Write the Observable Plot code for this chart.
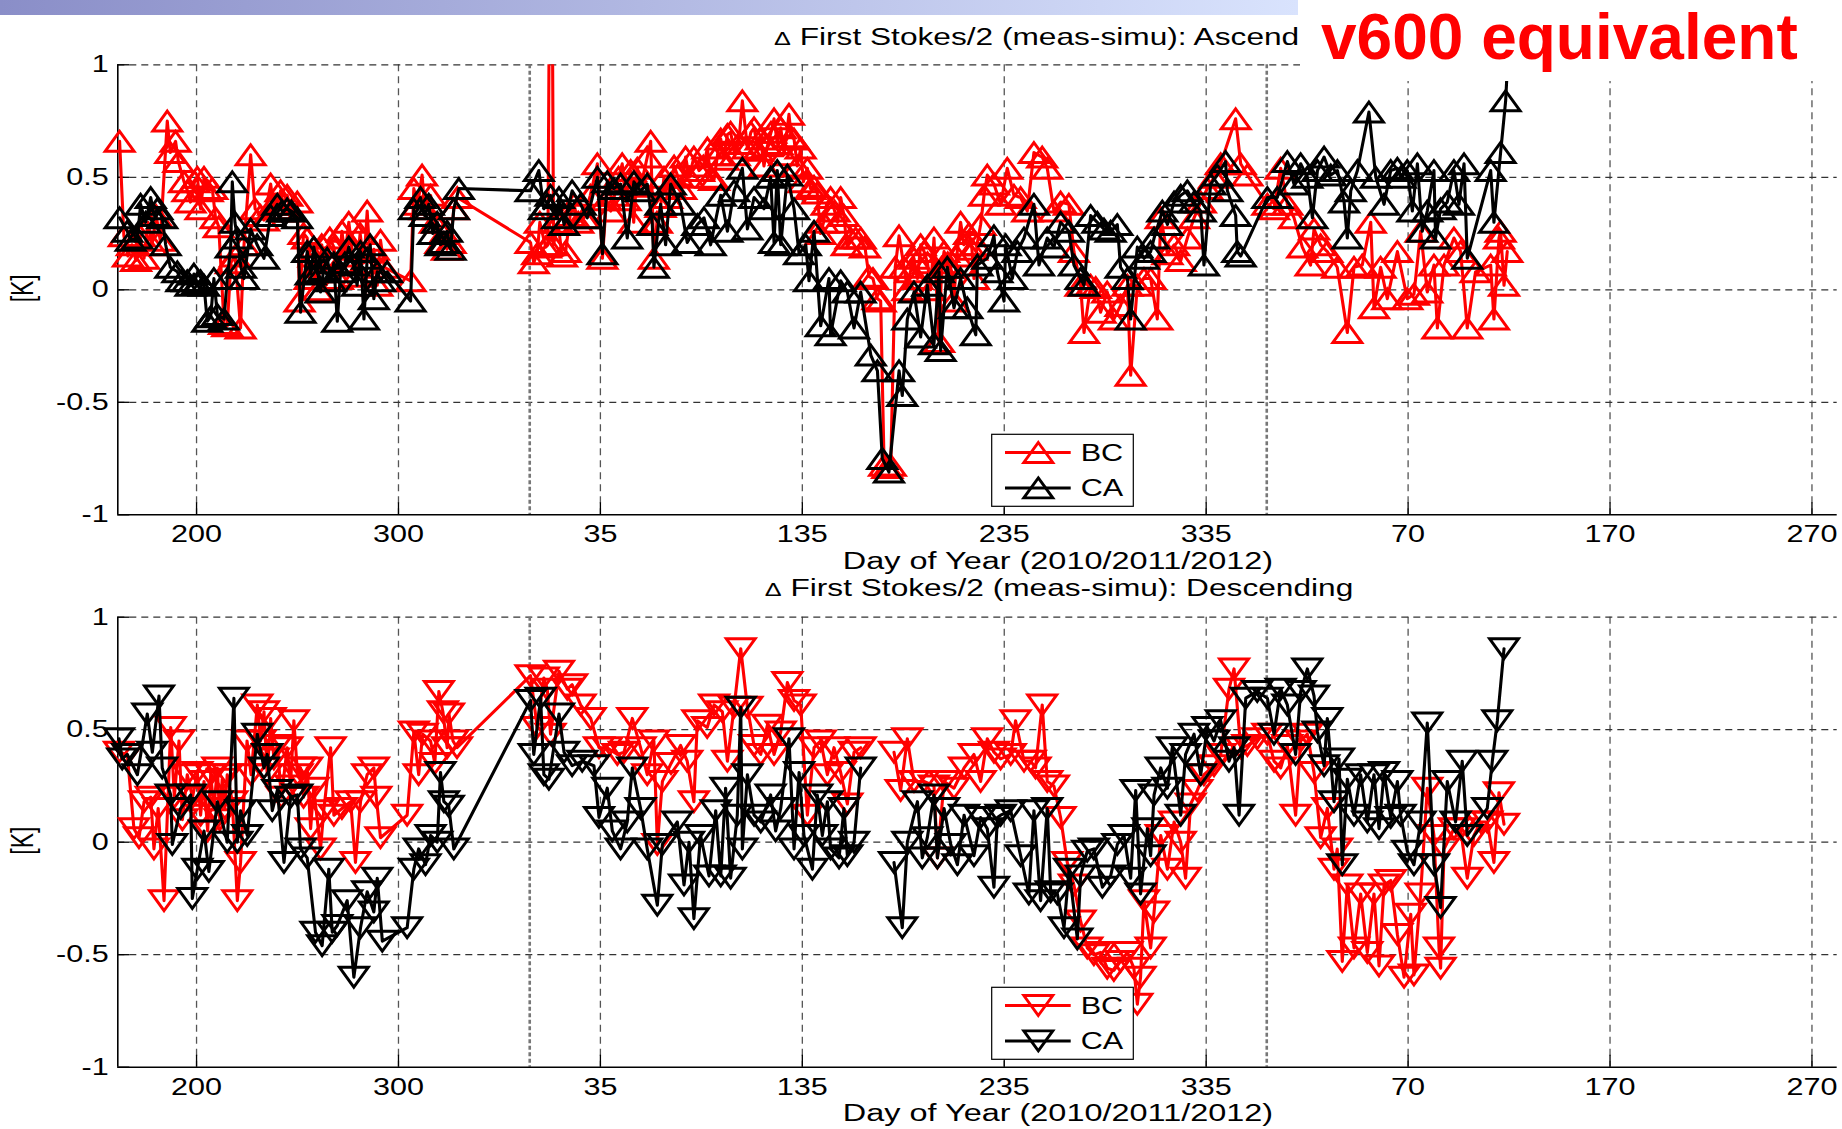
<!DOCTYPE html>
<html><head><meta charset="utf-8">
<script src="https://cdn.jsdelivr.net/npm/d3@7"></script>
<script src="https://cdn.jsdelivr.net/npm/@observablehq/plot@0.6"></script>
<style>
html,body{margin:0;padding:0;background:#fff;}
#root{position:relative;width:1842px;height:1129px;overflow:hidden;background:#fff;}
</style></head><body><div id="root"></div>
<script>
// ---------------- data ----------------
const xTicks = [200, 300, 400, 500, 600, 700, 800, 900, 1000];
const xTickLabels = ["200", "300", "35", "135", "235", "335", "70", "170", "270"];
const yTicks = [-1, -0.5, 0, 0.5, 1];
const yearBreaks = [365, 730];
const seriesNames = ["BC", "CA"];
const titleTop = "First Stokes/2 (meas-simu): Ascend";
const titleBottom = "First Stokes/2 (meas-simu): Descending";
const xLabel = "Day of Year (2010/2011/2012)";
const yLabel = "[K]";
const stamp = "v600 equivalent";

const ascBC = [[161.9,0.66],[164,0.24],[166,0.15],[168,0.2],[170,0.13],[172,0.24],[174,0.14],[176,0.3],[178,0.2],[180,0.33],[182,0.22],[185.5,0.75],[187,0.61],[189.6,0.66],[191,0.57],[193.8,0.48],[195.5,0.44],[197,0.39],[199,0.48],[200.4,0.5],[202,0.36],[203.7,0.5],[205.5,0.44],[207.8,0.45],[209.4,0.32],[211,0.28],[213.6,-0.15],[215.2,-0.16],[217,0.12],[219,0.15],[221.8,-0.17],[223.5,0.2],[226.8,0.6],[229,0.36],[231.7,0.33],[233.4,0.31],[236.7,0.47],[238,0.38],[240,0.36],[241.6,0.44],[243,0.38],[244.9,0.42],[247,0.35],[249.9,0.39],[251,-0.05],[253,0.25],[254.8,0.23],[256,0.05],[258,0.15],[260,0.0],[262,0.2],[264,0.08],[266,0.23],[268,0.19],[270,0.05],[272,0.26],[273.5,0.15],[275.4,0.3],[277,0.18],[279,0.06],[281,0.25],[282.9,0.12],[284.5,0.35],[286,0.12],[287.8,0.18],[289.5,0.02],[291.1,0.22],[293,0.1],[306,0.04],[307.6,0.45],[309.5,0.38],[311.7,0.51],[313,0.36],[315.9,0.42],[318,0.3],[320.8,0.21],[322.5,0.25],[324,0.18],[325.8,0.21],[327.4,0.36],[329.1,0.41],[365.4,0.21],[367,0.12],[368.7,0.16],[370,0.3],[372.9,0.19],[374,0.2],[375.5,2.5],[376.8,0.2],[379,0.3],[381,0.15],[382.8,0.17],[385,0.33],[386.9,0.38],[389,0.3],[391.9,0.32],[395,0.42],[398.5,0.56],[401,0.14],[403,0.4],[405.1,0.35],[407,0.42],[409,0.5],[410.8,0.56],[412.5,0.4],[415,0.53],[416.5,0.3],[418.3,0.54],[420,0.46],[423.2,0.59],[424.9,0.66],[426.5,0.14],[428,0.3],[429.8,0.37],[431.5,0.5],[433.1,0.41],[435,0.45],[436.5,0.55],[438.1,0.51],[440,0.45],[442.2,0.59],[444,0.5],[446.3,0.59],[448.8,0.53],[451,0.55],[453,0.63],[454.6,0.5],[456.3,0.49],[458,0.6],[459.6,0.67],[461,0.58],[462.9,0.69],[464.5,0.7],[466.5,0.6],[468.5,0.65],[470.3,0.84],[472.8,0.63],[474.5,0.7],[476.1,0.72],[478,0.62],[479.4,0.67],[481,0.55],[482.7,0.64],[484.5,0.7],[486,0.76],[487.6,0.65],[489.3,0.72],[491,0.6],[493.4,0.78],[494.5,0.68],[495.9,0.67],[497.5,0.55],[499.2,0.63],[500.5,0.48],[502.5,0.54],[504,0.45],[505.8,0.46],[507.4,0.43],[509,0.25],[510.5,0.3],[512,0.38],[514,0.41],[516,0.35],[517.5,0.3],[519,0.41],[520.6,0.33],[522,0.2],[523.9,0.23],[526.4,0.23],[528.9,0.23],[531,0.19],[533,0.06],[535,0.05],[537.2,-0.04],[538.8,-0.05],[540.5,-0.78],[542.1,-0.79],[543.8,-0.78],[546,0.1],[547.9,0.24],[550.4,0.1],[552,0.0],[553.5,0.08],[555.3,0.14],[557,0.05],[558.6,0.2],[560.3,0.17],[562,0.12],[563.5,0.0],[565.2,0.23],[567.7,-0.23],[569,0.1],[570.2,0.17],[572,0.12],[573.5,0.1],[575,-0.05],[576.5,0.15],[578.4,0.3],[580,0.2],[582.6,0.25],[584,0.18],[585,0.05],[586.5,0.2],[588.3,0.29],[590,0.42],[591.6,0.51],[594.9,0.47],[598.2,0.38],[601.5,0.54],[604.8,0.42],[608.1,0.41],[611.4,0.35],[614.7,0.61],[618.8,0.59],[621.3,0.54],[624.6,0.35],[627.9,0.39],[632,0.38],[634.5,0.17],[637.8,0.02],[639.5,-0.19],[642.8,0.02],[645.3,0.01],[647.7,-0.1],[651,-0.01],[654.3,-0.13],[657.6,-0.07],[661,0.02],[662.6,-0.38],[665.9,0.02],[669.2,0.05],[672.5,0.05],[675.8,-0.13],[677.5,0.32],[680.8,0.16],[684.1,0.2],[687.4,0.13],[690.7,0.23],[694,0.32],[697.3,0.39],[700.6,0.45],[703.9,0.5],[707.2,0.56],[714.6,0.76],[717.1,0.56],[720.4,0.51],[730.3,0.38],[733.6,0.36],[736.9,0.54],[740.2,0.38],[743.5,0.32],[747.6,0.19],[751.7,0.11],[753.4,0.27],[756.7,0.2],[760,0.17],[764.9,0.1],[769.9,-0.19],[773.2,0.1],[777.3,0.11],[781.5,0.3],[783.1,-0.08],[786.4,0.1],[789.7,-0.04],[794.7,0.17],[799.6,-0.04],[802.9,-0.02],[806.2,0.26],[809.5,-0.01],[812.8,0.11],[814.5,-0.17],[817.8,0.11],[822.7,0.23],[826,0.17],[829.3,-0.17],[833.4,0.08],[840.9,0.11],[842.5,-0.13],[845,0.23],[845.8,0.26],[847.5,0.02],[849.1,0.17]];

const ascCA = [[161.9,0.32],[165.7,0.26],[167.4,0.22],[170.7,0.23],[172.3,0.38],[174.8,0.3],[177.3,0.41],[179,0.33],[180.6,0.36],[183,0.32],[184.7,0.2],[187,0.1],[190.5,0.08],[192.5,0.04],[195.4,0.04],[197,0.02],[198.7,0.07],[200.4,0.03],[202,0.04],[203.7,0.02],[205.3,-0.14],[207,-0.12],[208.6,0.05],[210.3,-0.11],[213.6,-0.13],[215.2,0.05],[216.9,0.19],[217.7,0.48],[219,0.3],[220.2,0.23],[222,0.1],[223.5,0.05],[226.8,0.27],[230,0.2],[233.4,0.14],[236.7,0.33],[240,0.38],[242.4,0.35],[244.9,0.36],[247,0.35],[249.9,0.32],[251.5,-0.1],[254.8,0.17],[256.5,0.07],[258.1,0.19],[260,0.08],[261.4,-0.01],[263,0.09],[264.7,0.14],[266.5,0.04],[268,0.12],[269.7,-0.14],[271.3,0.08],[273.5,0.12],[275.4,0.19],[277.9,0.11],[279.5,0.02],[281.2,0.17],[282.9,-0.13],[284.5,0.14],[286,0.2],[287.8,-0.04],[289.5,0.08],[291,0.04],[294.4,0.08],[306,-0.05],[307.6,0.36],[310.9,0.41],[313,0.33],[315,0.38],[317,0.25],[319.2,0.3],[320.8,0.2],[322.5,0.21],[324.1,0.26],[325.8,0.18],[327.4,0.36],[329.9,0.45],[365.4,0.44],[369.5,0.53],[372,0.36],[373.7,0.38],[375.3,0.42],[378.6,0.32],[379.5,0.41],[382,0.29],[386,0.44],[390.2,0.38],[393.5,0.32],[398.5,0.5],[401,0.16],[403.4,0.48],[406.7,0.45],[410,0.47],[413.3,0.23],[416.6,0.48],[419.9,0.44],[423.2,0.47],[425.7,0.29],[426.5,0.1],[429.8,0.38],[432.3,0.2],[434.8,0.47],[439.7,0.38],[443,0.21],[448,0.29],[451.3,0.32],[454.6,0.2],[459.6,0.42],[462.9,0.26],[466.2,0.44],[470.3,0.54],[472.8,0.27],[476.1,0.41],[481,0.36],[484.3,0.5],[486,0.21],[487.6,0.53],[489.3,0.2],[492.6,0.51],[495.9,0.36],[498.4,0.16],[501.7,0.2],[503.3,0.04],[505.8,0.26],[509.1,-0.16],[513.2,0.05],[514,-0.2],[519,0.04],[522.3,-0.01],[525.6,-0.17],[528.9,-0.01],[533.9,-0.29],[537.2,-0.36],[539.6,-0.75],[542.9,-0.81],[547.9,-0.36],[549.5,-0.47],[552,-0.13],[555.3,-0.01],[558.6,-0.21],[561.9,0.02],[565.2,-0.24],[567.7,0.08],[568.5,-0.27],[571.8,0.1],[575.1,-0.08],[578.4,0.05],[581.7,-0.08],[585.9,-0.2],[586.7,0.11],[591.6,0.14],[594.9,0.24],[596.6,0.08],[599.9,-0.05],[600.7,0.2],[604,0.05],[606.5,0.17],[609.8,0.23],[614.7,0.38],[617.2,0.11],[621.3,0.23],[624.6,0.19],[627.9,0.3],[632,0.26],[634.5,0.11],[637.8,0.05],[639.5,0.02],[642.8,0.33],[646.1,0.3],[649.4,0.27],[652.7,0.26],[656,0.29],[657.6,0.1],[661,0.05],[662.6,-0.13],[665.9,0.19],[669.2,0.14],[672.5,0.17],[674.2,0.23],[678.3,0.35],[680.8,0.29],[684.1,0.39],[687.4,0.42],[690.7,0.44],[694,0.39],[697.3,0.35],[698.9,0.11],[702.2,0.47],[705.5,0.51],[709.6,0.57],[710.5,0.44],[714.6,0.33],[715.4,0.17],[717.1,0.15],[730.3,0.41],[735.2,0.41],[740.2,0.57],[743.5,0.47],[746.8,0.56],[750.1,0.5],[752.6,0.32],[755.1,0.53],[758.4,0.59],[761.7,0.51],[765,0.53],[768.3,0.39],[769.9,0.23],[771.6,0.44],[774.9,0.53],[780.6,0.79],[784,0.5],[788.1,0.38],[791.4,0.53],[794.7,0.54],[796.3,0.5],[799.6,0.53],[802.1,0.35],[804.6,0.56],[807,0.26],[809.5,0.35],[812.8,0.53],[813.6,0.23],[816.1,0.36],[819.4,0.39],[822.7,0.53],[825.2,0.38],[827.7,0.56],[829.3,0.14],[840.9,0.53],[842.5,0.3],[845.8,0.61],[848.3,0.84],[849.5,1.05]];

const descBC = [[161.6,0.4],[165.7,0.39],[169,0.06],[171.5,0.02],[174,0.18],[177.3,0.2],[178.9,-0.03],[181,0.15],[183.9,-0.26],[187.2,0.51],[189,0.2],[191.3,0.45],[193,0.1],[195.4,0.3],[198,0.2],[200.4,0.31],[202,0.12],[203.7,0.27],[205.5,0.05],[207,0.3],[208.6,0.15],[210.3,0.33],[211.5,0.1],[212.7,0.28],[214,0.15],[215.2,0.3],[217.7,0.18],[220.2,-0.26],[221.8,-0.09],[225,0.45],[227,0.3],[230.1,0.61],[231.7,0.45],[233.4,0.58],[235,0.3],[236.7,0.55],[238.3,0.37],[240,0.43],[242,0.2],[244.9,0.42],[246.5,0.25],[248.2,0.54],[250,0.3],[251.5,0.33],[253,0.2],[254.8,0.33],[256.5,0.06],[258,0.24],[261.4,-0.03],[263,0.14],[266.4,0.42],[268,0.12],[272,0.15],[276.3,0.18],[278.7,-0.09],[281.2,0.18],[284.5,0.3],[287.8,0.33],[289,0.2],[291.1,0.02],[304.3,0.12],[307.6,0.49],[310,0.3],[312,0.48],[315.9,0.45],[318,0.35],[320,0.67],[322,0.58],[324.1,0.42],[325,0.57],[327,0.45],[329,0.42],[365.4,0.74],[368.7,0.51],[372,0.73],[373.7,0.68],[375.3,0.48],[379.5,0.76],[383.6,0.68],[386,0.7],[390.2,0.61],[395.2,0.55],[399.3,0.42],[403.4,0.42],[408.4,0.39],[411.7,0.4],[415.8,0.55],[419.9,0.42],[423.2,0.3],[426.5,0.45],[428.2,-0.01],[430.7,0.27],[435,0.35],[439.7,0.43],[443,0.36],[446.3,0.18],[448,0.54],[452.9,0.51],[456.3,0.61],[460.4,0.58],[462.9,0.36],[466.2,0.6],[469.5,0.86],[472.8,0.6],[476.1,0.43],[479.4,0.39],[482.7,0.52],[486,0.39],[489.3,0.49],[492.6,0.71],[495.9,0.63],[499.2,0.61],[502.5,0.12],[505.8,0.42],[509.1,0.45],[512.4,0.3],[515.7,0.42],[519,0.31],[522.3,0.17],[525.6,0.4],[528.9,0.42],[537,NaN],[545.4,0.4],[548.7,0.23],[552,0.46],[555.3,0.27],[560.3,0.27],[565.2,0.25],[566.9,-0.07],[570.2,0.27],[575.1,0.24],[580.1,0.33],[585,0.39],[588.3,0.27],[591.6,0.46],[594.9,0.4],[598.2,0.37],[603.2,0.39],[605.6,0.54],[609.8,0.36],[613.1,0.36],[615.5,0.33],[618.8,0.61],[621.3,0.27],[624.6,0.25],[627.9,0.11],[631.2,-0.09],[634.5,-0.19],[637.8,-0.35],[641.1,-0.47],[644.4,-0.5],[647.7,-0.49],[651,-0.56],[654.3,-0.57],[657.6,-0.53],[661,-0.49],[664.2,-0.56],[665.9,-0.72],[667.5,-0.6],[669.2,-0.26],[672.5,-0.47],[674.2,-0.31],[677.5,0.03],[680.8,-0.12],[684.1,0.09],[687.4,0.0],[689.8,-0.16],[692.3,0.17],[695.6,0.23],[698.9,0.3],[703.9,0.34],[707.2,0.39],[711.3,0.68],[713.8,0.77],[717.1,0.42],[720.4,0.43],[725.3,0.46],[730.3,0.48],[733.6,0.36],[736.9,0.33],[740.2,0.43],[744.3,0.12],[746.8,0.45],[750.1,0.48],[753.4,0.31],[756.7,0.02],[760,0.15],[763.3,-0.12],[764.9,-0.03],[767.4,-0.53],[769.9,-0.19],[773.2,-0.47],[776.5,-0.23],[779.8,-0.49],[783.1,-0.23],[785.6,-0.55],[788.1,-0.19],[791.4,-0.17],[794.7,-0.41],[798,-0.6],[801.3,-0.32],[802.9,-0.59],[806.2,-0.23],[809.5,0.24],[812.8,0.03],[815.3,-0.47],[816.1,-0.56],[817.8,-0.03],[822.7,0.06],[826,0.06],[829.3,-0.16],[832.6,0.03],[835.9,0.09],[839.2,0.09],[842.5,-0.09],[845,0.22],[847.5,0.08]];

const descCA = [[161.6,0.46],[163.2,0.37],[165.7,0.39],[170.7,0.3],[175.6,0.57],[178.1,0.4],[181.4,0.65],[183,0.33],[187.2,0.21],[188,-0.01],[192.1,0.15],[197.1,0.21],[197.9,-0.25],[200.4,-0.12],[203.7,0.05],[206.1,-0.13],[210.3,0.18],[215.2,0.0],[218.5,0.64],[220.2,0.0],[221.8,0.14],[225.1,0.03],[230.1,0.48],[233.4,0.33],[235,0.39],[237.5,0.14],[240,0.23],[243.3,-0.09],[246.6,0.2],[249.9,0.21],[251.5,-0.03],[254.8,-0.07],[258.9,-0.4],[262.2,-0.46],[265.5,-0.12],[267.2,-0.4],[269.7,-0.37],[274.6,-0.26],[277.9,-0.6],[281.2,-0.38],[284.5,-0.22],[287.8,-0.31],[289.5,-0.16],[292,-0.44],[304.3,-0.38],[307.6,-0.12],[310,-0.03],[313.4,-0.1],[315.9,0.03],[319.2,0.0],[320.8,0.31],[322.5,0.18],[324.9,0.16],[327.4,-0.03],[365.4,0.63],[367,0.39],[370.4,0.64],[372,0.3],[374.5,0.28],[379.5,0.57],[382,0.4],[386,0.34],[391,0.36],[396.8,0.34],[399.3,0.11],[403.4,0.24],[405.9,0.05],[410,-0.03],[413.3,0.09],[415.8,0.33],[419.9,0.15],[423.2,-0.03],[428.2,-0.28],[430.7,-0.01],[438.1,0.09],[441.4,-0.19],[443.9,0.0],[446.3,-0.34],[449.6,0.03],[453.8,-0.15],[457.1,0.14],[459.6,-0.15],[462,0.24],[464.5,-0.16],[467.8,0.12],[469.5,0.6],[470.3,-0.03],[472.8,0.3],[476.1,0.12],[479.4,0.09],[484.3,0.21],[486.8,0.05],[489.3,0.15],[493.4,0.46],[495.9,-0.03],[498.4,0.31],[500.8,0.03],[505,-0.12],[507.4,0.21],[509.9,0.03],[512.4,0.18],[514,-0.03],[518.2,-0.07],[520.6,0.15],[522.3,-0.06],[525.6,0.0],[528.9,0.33],[537,NaN],[545.4,-0.09],[549.5,-0.38],[552,0.0],[557,0.18],[559.4,-0.07],[561.9,0.02],[565.2,0.21],[566.9,-0.07],[570.2,0.15],[573.5,-0.01],[576.8,-0.1],[580.1,0.12],[585,-0.06],[588.3,0.11],[591.6,0.06],[594.9,-0.2],[596.6,0.11],[598.2,0.12],[603.2,0.14],[608.1,-0.06],[612.2,-0.23],[614.7,0.14],[618,-0.26],[621.3,0.15],[623,-0.22],[626.3,-0.23],[629.6,-0.38],[632.1,-0.12],[636.2,-0.43],[637.8,-0.15],[641.1,-0.04],[644.4,-0.03],[648.6,-0.2],[652.7,-0.15],[656,-0.01],[659.3,0.03],[662.6,-0.16],[665.1,0.23],[667.5,-0.23],[670.9,0.06],[672.5,-0.06],[674.2,0.21],[677.5,0.33],[680.8,0.24],[683.2,0.42],[687.4,0.12],[689.8,0.39],[694,0.48],[697.3,0.3],[700.6,0.51],[703.9,0.45],[707.2,0.54],[711.3,0.36],[713.8,0.42],[716.3,0.12],[719.6,0.64],[725.3,0.67],[730.3,0.64],[733.6,0.48],[736.9,0.68],[740.2,0.61],[744.3,0.39],[746.8,0.67],[750.1,0.77],[753.4,0.65],[755.1,0.49],[758.4,0.34],[760,0.55],[763.3,0.18],[765.8,0.37],[767.4,-0.1],[769.9,0.28],[773.2,0.12],[776.5,0.3],[779.8,0.09],[783.1,0.3],[785.6,0.06],[788.1,0.31],[791.4,0.11],[794.7,0.27],[796.3,0.12],[799.6,-0.04],[802.9,-0.1],[806.2,0.09],[809.5,0.53],[812.8,-0.1],[816.1,-0.29],[819.4,0.27],[823.5,0.09],[826.8,0.36],[829.3,0.03],[839.2,0.15],[841.7,0.36],[844.2,0.54],[847.5,0.86]];

// ---------------- style ----------------
const RED = "#ff0000", BLACK = "#000000";
const FONT = "'Liberation Sans', Arial, Helvetica, sans-serif";
const SX = 1.33;               // horizontal stretch of the original figure text
const xDomain = [161, 1012.5];
const ML = 117.3, MR = 5.3;
const pxPerDay = (1842 - ML - MR) / (xDomain[1] - xDomain[0]);
const pxPerUnit = 225;

function triangle(up) {
  return {draw(ctx) {
    const w = 14.5, h = 10;
    if (up) { ctx.moveTo(0, -h); ctx.lineTo(w, h); ctx.lineTo(-w, h); }
    else { ctx.moveTo(0, h); ctx.lineTo(w, -h); ctx.lineTo(-w, -h); }
    ctx.closePath();
  }};
}

function stretchTexts(svg) {
  svg.querySelectorAll("text").forEach(t => {
    const x = parseFloat(t.getAttribute("x")) || 0;
    const prev = t.getAttribute("transform") || "";
    t.setAttribute("transform", `${prev} translate(${x},0) scale(${SX},1) translate(${-x},0)`);
    t.setAttribute("font-size", 23);
    t.setAttribute("font-family", FONT);
    t.setAttribute("fill", "#000");
  });
}

function panel(bc, ca, up, top, marginTop, marginBottom) {
  const inRange = d => Number.isFinite(d[1]) && d[1] >= -1 && d[1] <= 1;
  const tickX = 12 / pxPerUnit;
  const tickY = 12 / pxPerDay;
  const sym = triangle(up);
  const chart = Plot.plot({
    width: 1842, height: 560,
    marginTop, marginBottom, marginLeft: ML, marginRight: MR,
    style: {fontSize: "23px", fontFamily: FONT, background: "transparent", color: "#000", overflow: "visible"},
    x: {domain: xDomain, ticks: xTicks, tickFormat: d => xTickLabels[xTicks.indexOf(d)], tickSize: 0, tickPadding: 11, label: null},
    y: {domain: [-1, 1], ticks: yTicks, tickFormat: d => String(d), tickSize: 0, tickPadding: 9, label: null},
    marks: [
      Plot.ruleX(xTicks, {stroke: "#555", strokeWidth: 1.3, strokeDasharray: "7,5"}),
      Plot.ruleY(yTicks.filter(v => v > -1), {stroke: "#333", strokeWidth: 1.3, strokeDasharray: "7,5"}),
      Plot.ruleX(yearBreaks, {stroke: "#777", strokeWidth: 2.6, strokeDasharray: "4,2.5"}),
      Plot.ruleX(xTicks, {y1: -1, y2: -1 + tickX, stroke: "#000", strokeWidth: 1.3}),
      Plot.ruleY(yTicks, {x1: xDomain[0], x2: xDomain[0] + tickY, stroke: "#000", strokeWidth: 1.3}),
      Plot.ruleX([xDomain[0]], {stroke: "#000", strokeWidth: 1.6}),
      Plot.ruleY([-1], {stroke: "#000", strokeWidth: 1.6}),
      Plot.line(bc, {x: d => d[0], y: d => d[1], stroke: RED, strokeWidth: 3.1, clip: true}),
      Plot.dot(bc.filter(inRange), {x: d => d[0], y: d => d[1], symbol: sym, stroke: RED, fill: "none", strokeWidth: 2.9}),
      Plot.line(ca, {x: d => d[0], y: d => d[1], stroke: BLACK, strokeWidth: 3.1, clip: true}),
      Plot.dot(ca.filter(inRange), {x: d => d[0], y: d => d[1], symbol: sym, stroke: BLACK, fill: "none", strokeWidth: 2.9})
    ]
  });
  chart.style.position = "absolute";
  chart.style.left = "0px";
  chart.style.top = top + "px";
  stretchTexts(chart);
  document.getElementById("root").appendChild(chart);
}

panel(ascBC, ascCA, true, 0, 64.3, 45.7);
panel(descBC, descCA, false, 552, 64.7, 45.3);

// ---------------- overlay: titles, labels, legends, slide header ----------------
const ov = d3.select("#root").append("svg")
  .attr("width", 1842).attr("height", 1129)
  .style("position", "absolute").style("left", "0px").style("top", "0px");

const LABEL_SIZE = 24.4;
const TITLE_SIZE = 23.8;
function stext(x, y, opt = {}) {
  const {anchor = "middle", size = 23, rotate = 0} = opt;
  return ov.append("text")
    .attr("text-anchor", anchor).attr("font-size", size).attr("font-family", FONT).attr("fill", "#000")
    .attr("transform", rotate ? `translate(${x},${y}) rotate(${rotate}) scale(1,${SX})` : `translate(${x},${y}) scale(${SX},1)`);
}
function title(str, x, cy, anchor) {
  const t = stext(x, cy + 8.4, {anchor, size: TITLE_SIZE});
  t.append("tspan").attr("font-size", 19).text("\u0394");
  t.append("tspan").text(" " + str);
}
title(titleTop, 774, 36.4, "start");
title(titleBottom, 1059, 587.4, "middle");
stext(1058, 568.8, {size: LABEL_SIZE}).text(xLabel);
stext(1058, 1121, {size: LABEL_SIZE}).text(xLabel);
stext(33, 288.3, {rotate: -90}).text(yLabel);
stext(33, 840.7, {rotate: -90}).text(yLabel);

function legend(y0, up) {
  const x0 = 991.7, w = 141.6, h = 72;
  ov.append("rect").attr("x", x0).attr("y", y0).attr("width", w).attr("height", h)
    .attr("fill", "#fff").attr("stroke", "#000").attr("stroke-width", 1.2);
  const rows = [{name: seriesNames[0], color: RED, cy: y0 + 18.2}, {name: seriesNames[1], color: BLACK, cy: y0 + 53.6}];
  const sym = d3.symbol(triangle(up))();
  rows.forEach(r => {
    ov.append("line").attr("x1", x0 + 13.3).attr("x2", x0 + 79).attr("y1", r.cy).attr("y2", r.cy)
      .attr("stroke", r.color).attr("stroke-width", 3);
    ov.append("path").attr("d", sym).attr("transform", `translate(${x0 + 46.6},${r.cy})`)
      .attr("fill", "none").attr("stroke", r.color).attr("stroke-width", 2.9);
    stext(x0 + 89, r.cy + 8.2, {anchor: "start"}).text(r.name);
  });
}
legend(434.3, true);
legend(987.3, false);

// slide header bar and the "v600 equivalent" stamp
const defs = ov.append("defs");
const grad = defs.append("linearGradient").attr("id", "hdr").attr("x1", "0%").attr("x2", "100%");
grad.append("stop").attr("offset", "0%").attr("stop-color", "#8a8ec8");
grad.append("stop").attr("offset", "100%").attr("stop-color", "#d9e3fd");
ov.append("rect").attr("x", 0).attr("y", 0).attr("width", 1298).attr("height", 15).attr("fill", "url(#hdr)");
ov.append("rect").attr("x", 1300).attr("y", 0).attr("width", 542).attr("height", 81).attr("fill", "#fff");
ov.append("text").attr("x", 1321).attr("y", 58.6).attr("font-size", 64).attr("font-weight", "bold")
  .attr("font-family", FONT).attr("fill", RED).text(stamp);
</script></body></html>
